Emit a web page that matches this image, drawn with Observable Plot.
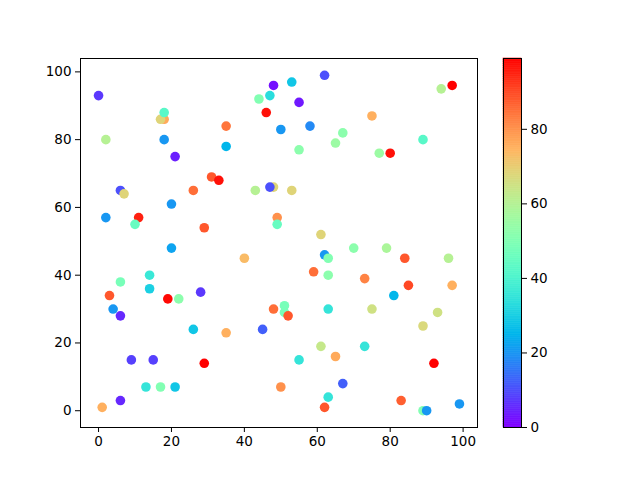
<!DOCTYPE html>
<html>
<head>
<meta charset="utf-8">
<script src="https://cdn.jsdelivr.net/npm/d3@7"></script>
<script src="https://cdn.jsdelivr.net/npm/@observablehq/plot@0.6"></script>
<style>
  html, body { margin: 0; padding: 0; background: white; }
  #wrap { position: relative; width: 640px; height: 480px; }
  #wrap > svg { position: absolute; top: 0; }
</style>
</head>
<body>
<div id="wrap"></div>
<script>
const xs = [0,48,44,47,46,50,2,18,17,18,18,21,35,35,31,33,26,6,7,20,43,48,47,2,11,10,29,49,49,20,
  53,62,55,75,94,97,58,67,65,55,77,80,89,53,61,70,79,40,14,6,14,3,19,22,28,4,6,26,35,45,
  48,51,51,52,9,15,29,13,17,21,6,1,50,62,63,84,96,59,63,73,85,97,81,63,75,93,89,61,73,65,
  55,92,67,63,62,83,89,90,99];
const ys = [93,96,92,93,88,83,80,86,86,88,80,75,84,78,69,68,65,65,64,61,65,66,66,57,57,55,54,57,55,48,
  97,99,91,87,95,96,84,82,79,77,76,76,80,65,52,48,48,45,40,38,36,34,33,33,35,30,28,24,23,24,
  30,31,29,28,15,15,14,7,7,7,3,1,7,46,45,45,45,41,40,39,37,37,34,30,30,29,25,19,19,16,
  15,14,8,4,1,3,0,0,2];
const cs = [7,2,50,33,97,20,60,76,68,42,20,4,84,25,88,97,85,10,68,20,60,68,10,20,95,45,88,80,45,22,
  28,10,3,75,60,99,18,52,55,52,55,97,42,68,68,52,58,73,36,48,30,88,98,52,7,20,5,28,75,12,
  85,48,48,88,8,8,99,35,50,28,5,75,80,20,50,88,60,85,52,82,90,75,25,35,65,65,67,63,35,76,
  35,99,12,35,88,87,50,20,20];
const xTicks = [0,20,40,60,80,100];
const yTicks = [0,20,40,60,80,100];
const cTicks = [0,20,40,60,80];
const cDomain = [0,99];

const points = xs.map((x,i) => ({x, y: ys[i], c: cs[i]}));

// matplotlib "rainbow" colormap
const rainbow = t => {
  const r = Math.min(1, Math.abs(2*t - 0.5));
  const g = Math.sin(Math.PI * t);
  const b = Math.cos(Math.PI * t / 2);
  return d3.rgb(r*255, g*255, Math.max(0,b)*255).formatHex();
};
const colorScale = {type: "linear", domain: cDomain, interpolate: rainbow};
const font = {fontFamily: "DejaVu Sans, sans-serif", fontSize: "13.5px", color: "black", background: "white"};

const main = Plot.plot({
  width: 640, height: 480,
  marginLeft: 80, marginRight: 163, marginTop: 58, marginBottom: 53,
  x: {domain: [-4.95, 103.95], label: null},
  y: {domain: [-4.95, 103.95], label: null},
  color: colorScale,
  style: font,
  marks: [
    Plot.dot(points, {x: "x", y: "y", fill: "c", r: 4.8}),
    Plot.frame({stroke: "black", strokeWidth: 1}),
    Plot.axisX({ticks: xTicks, tickSize: 5, tickPadding: 4, label: null}),
    Plot.axisY({ticks: yTicks, tickSize: 5, tickPadding: 4, label: null})
  ]
});

const bands = d3.range(0, 99, 0.5).map(v => ({v, v2: Math.min(99, v + 0.5)}));
const bar = Plot.plot({
  width: 150, height: 480,
  marginLeft: 13, marginRight: 119, marginTop: 58, marginBottom: 53,
  x: {domain: [0, 1], axis: null},
  y: {domain: cDomain, label: null},
  color: colorScale,
  style: font,
  marks: [
    Plot.rect(bands, {x1: 0, x2: 1, y1: "v", y2: "v2", fill: "v", stroke: "v", strokeWidth: 0.6}),
    Plot.frame({stroke: "black", strokeWidth: 1}),
    Plot.axisY({anchor: "right", ticks: cTicks, tickSize: 5, tickPadding: 4, label: null})
  ]
});

const wrap = document.getElementById("wrap");
main.style.left = "0px";
bar.style.left = "490px";
wrap.appendChild(main);
wrap.appendChild(bar);
</script>
</body>
</html>
